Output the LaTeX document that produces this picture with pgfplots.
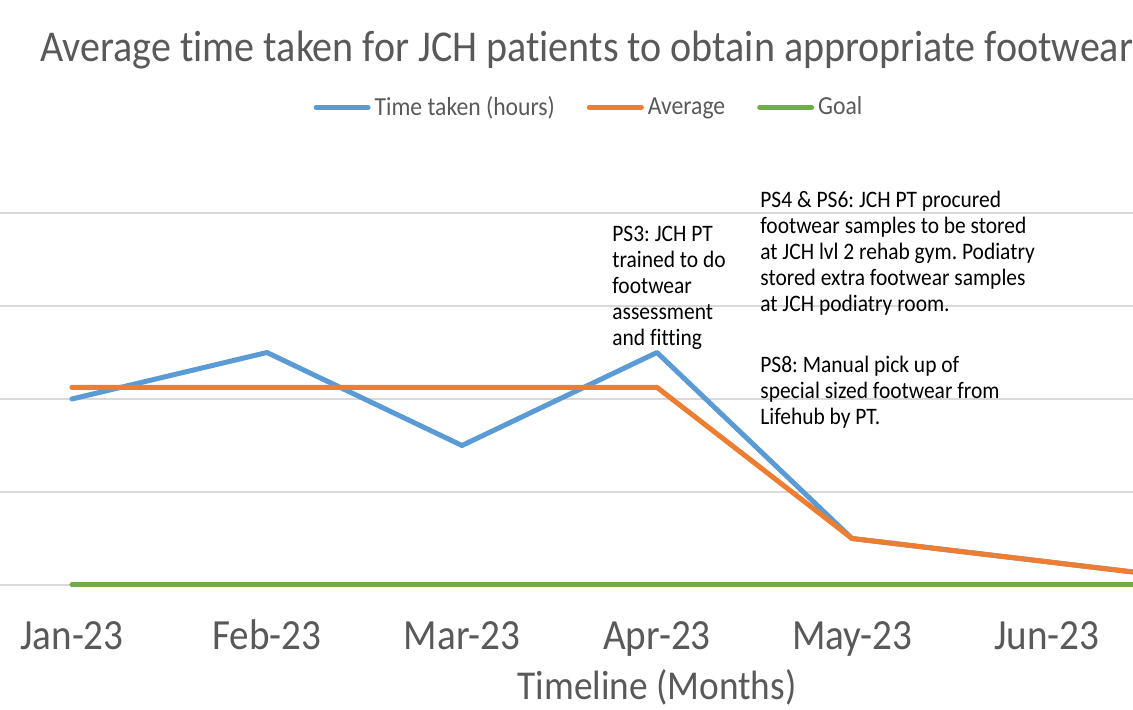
\documentclass[border=0pt]{standalone}
\usepackage{pgfplots}
\pgfplotsset{compat=1.18}
\usepackage{fontspec}
\setmainfont{Carlito}[FakeStretch=0.91, Ligatures=NoCommon]
\frenchspacing
\definecolor{cblue}{HTML}{5B9BD5}
\definecolor{corange}{HTML}{ED7D31}
\definecolor{cgreen}{HTML}{70AD47}
\definecolor{tgray}{HTML}{595959}
\definecolor{ggray}{HTML}{D9D9D9}
\begin{document}
\begin{tikzpicture}
\useasboundingbox (0,0) rectangle (566.5pt,355pt);
\node[anchor=base west, text=tgray, font=\fontsize{22}{26}\selectfont, inner sep=0pt] at (20pt,324pt) {Average time taken for JCH patients to obtain appropriate footwear};
\node[anchor=base, text=tgray, font=\fontsize{20.5}{24}\selectfont, inner sep=0pt] at (328.5pt,5pt) {Timeline (Months)};
\begin{axis}[
  at={(0pt,57.85pt)}, anchor=south west,
  scale only axis, width=566.5pt, height=218.55pt,
  xmin=-0.369, xmax=5.441, ymin=-0.1, ymax=4.6,
  clip mode=individual,
  axis line style={draw=none},
  tick style={draw=none},
  ymajorgrids,
  grid style={color=ggray, line width=0.8pt},
  ytick={0,1,2,3,4}, yticklabels={},
  xtick={0,1,2,3,4,5},
  xticklabels={Jan-23,Feb-23,Mar-23,Apr-23,May-23,Jun-23},
  xticklabel style={anchor=base, yshift=-27.85pt, text=tgray, font=\fontsize{21.5}{25}\selectfont},
  /pgf/number format/assume math mode=true,
  legend columns=3,
  legend style={at={(axis description cs:0.5207,1.114)}, anchor=center, draw=none, fill=none,
    font=\fontsize{13}{15}\selectfont, text=tgray,
    /tikz/every even column/.append style={column sep=14pt},
    /tikz/every odd column/.append style={column sep=0pt}},
  legend image code/.code={\draw[#1, line width=2.5pt, line cap=round] (0pt,0pt) -- (26pt,0pt);},
  every axis plot/.append style={line width=2.5pt, line join=round, line cap=round},
]
\addplot[cblue] coordinates {(0,2) (1,2.5) (2,1.5) (3,2.5) (4,0.5) (5,0.25) (6,0)};
\addlegendentry{Time taken (hours)}
\addplot[corange] coordinates {(0,2.125) (1,2.125) (2,2.125) (3,2.125) (4,0.5) (5,0.25) (6,0)};
\addlegendentry{Average}
\addplot[cgreen] coordinates {(0,0) (1,0) (2,0) (3,0) (4,0) (5,0) (6,0)};
\addlegendentry{Goal}
\node[anchor=north west, align=left, inner sep=0pt, font=\fontsize{11.8}{13}\selectfont] at (axis cs:2.769,3.86) {PS3: JCH PT\\trained to do\\footwear\\assessment\\and fitting};
\node[anchor=north west, align=left, inner sep=0pt, font=\fontsize{11.8}{13}\selectfont] at (axis cs:3.528,4.237) {PS4 \& PS6: JCH PT procured\\footwear samples to be stored\\at JCH lvl 2 rehab gym. Podiatry\\stored extra footwear samples\\at JCH podiatry room.};
\node[anchor=north west, align=left, inner sep=0pt, font=\fontsize{11.8}{13}\selectfont] at (axis cs:3.528,2.462) {PS8: Manual pick up of\\special sized footwear from\\Lifehub by PT.};
\end{axis}
\end{tikzpicture}
\end{document}
